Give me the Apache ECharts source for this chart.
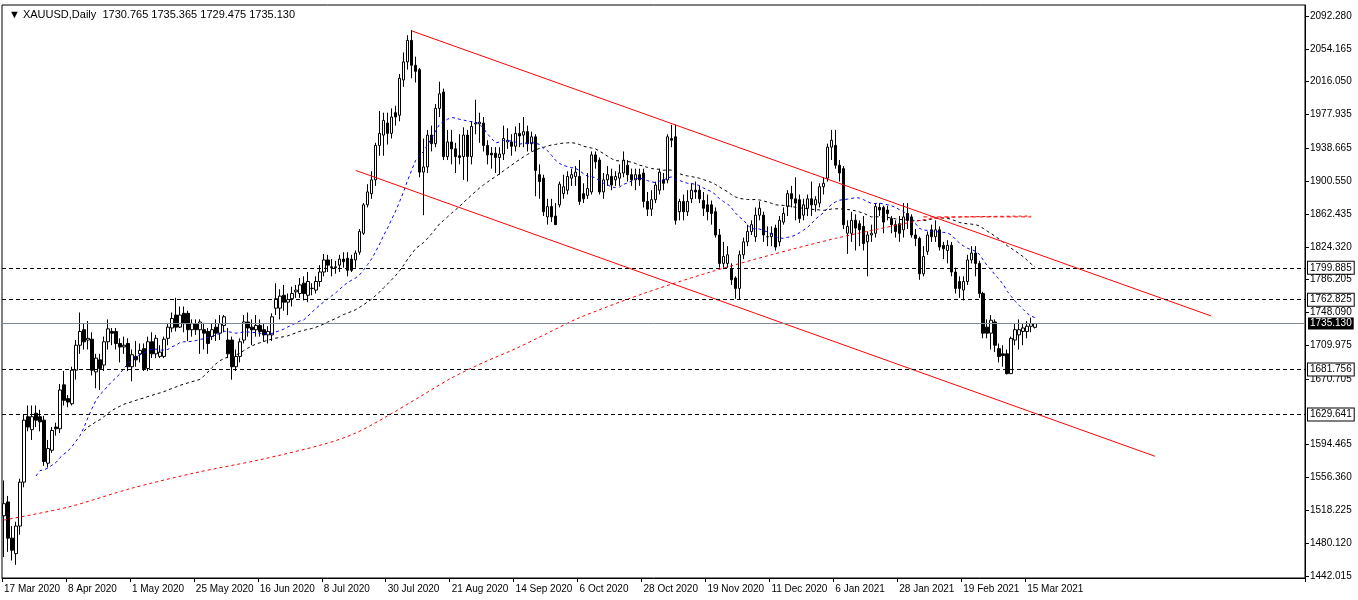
<!DOCTYPE html>
<html><head><meta charset="utf-8">
<script src="https://cdn.jsdelivr.net/npm/echarts@6/dist/echarts.min.js"></script>
<style>html,body{margin:0;padding:0;background:#fff}#c{width:1358px;height:600px}</style>
</head><body><div id="c"></div>
<script>
// OHLC rows: [open, close, low, high]
const ohlc = [
[1512,1526,1464,1553],[1528,1486,1470,1535],[1486,1472,1460,1500],[1468,1500,1455,1505],[1500,1551,1490,1555],
[1551,1623,1545,1630],[1627,1615,1610,1640],[1612,1627,1600,1640],[1631,1623,1615,1640],[1627,1621,1610,1635],
[1623,1575,1570,1628],[1573,1590,1568,1600],[1588,1611,1585,1615],[1615,1613,1605,1620],[1613,1658,1608,1665],
[1664,1646,1640,1680],[1648,1644,1638,1652],[1642,1681,1640,1685],[1681,1710,1670,1716],[1710,1726,1700,1748],
[1728,1714,1705,1735],[1716,1718,1705,1738],[1717,1681,1675,1725],[1679,1695,1660,1700],[1693,1683,1658,1700],
[1687,1714,1680,1720],[1714,1729,1705,1740],[1726,1724,1710,1730],[1726,1712,1705,1730],[1712,1708,1690,1718],
[1708,1710,1700,1720],[1712,1685,1680,1718],[1685,1699,1668,1705],[1697,1693,1685,1715],[1700,1704,1690,1712],
[1706,1683,1680,1712],[1683,1714,1680,1720],[1714,1700,1695,1725],[1700,1718,1695,1722],[1697,1702,1695,1710],
[1697,1717,1695,1720],[1718,1731,1710,1735],[1730,1741,1725,1748],[1745,1731,1726,1765],[1731,1745,1730,1755],
[1747,1735,1725,1755],[1747,1728,1715,1750],[1728,1735,1720,1740],[1735,1728,1722,1740],[1728,1737,1700,1740],
[1728,1724,1705,1736],[1726,1712,1700,1730],[1720,1728,1716,1735],[1731,1724,1715,1740],[1724,1735,1716,1745],
[1733,1743,1725,1745],[1716,1700,1695,1730],[1716,1685,1670,1720],[1685,1697,1680,1705],[1697,1714,1690,1718],
[1716,1737,1712,1745],[1737,1730,1720,1748],[1731,1728,1710,1740],[1728,1733,1720,1745],[1733,1726,1720,1740],
[1728,1722,1714,1735],[1722,1726,1712,1732],[1722,1743,1715,1747],[1753,1764,1745,1782],[1753,1767,1740,1775],
[1768,1760,1750,1780],[1760,1763,1745,1770],[1764,1770,1755,1778],[1772,1774,1765,1780],[1770,1780,1765,1788],
[1782,1770,1762,1790],[1768,1784,1760,1795],[1776,1776,1768,1782],[1774,1784,1770,1790],[1784,1795,1778,1803],
[1795,1809,1790,1816],[1809,1803,1795,1815],[1801,1800,1790,1810],[1800,1801,1793,1808],[1803,1810,1795,1815],
[1810,1807,1800,1818],[1811,1797,1790,1818],[1810,1797,1795,1815],[1809,1817,1800,1820],[1818,1842,1815,1845],
[1840,1873,1838,1875],[1873,1888,1870,1897],[1886,1902,1880,1912],[1902,1942,1895,1945],[1942,1956,1930,1982],
[1954,1971,1930,1980],[1968,1956,1943,1980],[1956,1975,1950,1985],[1980,1975,1965,1988],[1977,2020,1970,2025],
[2018,2039,2010,2050],[2039,2064,2030,2070],[2064,2035,2020,2076],[2035,2028,2015,2045],[2030,1911,1905,2032],
[1911,1917,1861,1950],[1917,1954,1910,1960],[1954,1944,1935,1965],[1944,1985,1940,1990],[1985,2002,1975,2016],
[2004,1929,1925,2008],[1929,1946,1925,1960],[1946,1938,1920,1960],[1938,1929,1910,1945],[1930,1928,1920,1955],
[1929,1954,1902,1963],[1954,1929,1900,1960],[1929,1964,1920,1970],[1967,1968,1955,1995],[1967,1969,1945,1980],
[1968,1942,1935,1975],[1942,1931,1920,1948],[1933,1931,1915,1940],[1933,1928,1910,1940],[1928,1932,1908,1940],
[1932,1950,1925,1965],[1946,1948,1938,1962],[1946,1941,1930,1955],[1941,1956,1935,1964],[1956,1953,1940,1968],
[1954,1958,1940,1975],[1958,1944,1935,1965],[1944,1952,1935,1958],[1952,1913,1883,1955],[1908,1900,1880,1920],
[1904,1865,1860,1908],[1859,1871,1850,1880],[1871,1859,1853,1880],[1860,1850,1850,1875],[1873,1897,1870,1900],
[1886,1894,1880,1908],[1890,1906,1885,1912],[1904,1908,1895,1915],[1906,1911,1895,1918],[1906,1877,1873,1925],
[1886,1880,1875,1898],[1884,1892,1880,1910],[1888,1931,1885,1935],[1931,1923,1915,1935],[1925,1888,1885,1928],
[1888,1902,1880,1910],[1902,1908,1895,1918],[1906,1896,1890,1915],[1902,1906,1895,1912],[1904,1910,1895,1920],
[1910,1925,1905,1935],[1919,1908,1900,1925],[1908,1902,1895,1915],[1902,1908,1890,1915],[1908,1902,1895,1915],
[1910,1877,1870,1915],[1877,1868,1860,1888],[1868,1879,1860,1890],[1879,1896,1875,1900],[1890,1911,1885,1915],
[1902,1898,1890,1910],[1902,1952,1898,1955],[1950,1948,1940,1966],[1952,1855,1850,1966],[1865,1877,1855,1880],
[1877,1865,1855,1885],[1865,1877,1860,1890],[1880,1890,1875,1898],[1890,1888,1880,1900],[1890,1880,1875,1895],
[1878,1869,1860,1888],[1873,1865,1855,1885],[1873,1863,1850,1878],[1865,1838,1835,1870],[1838,1805,1800,1845],
[1805,1813,1800,1830],[1805,1815,1800,1825],[1799,1786,1780,1805],[1788,1776,1764,1790],[1776,1815,1763,1820],
[1815,1830,1810,1835],[1830,1842,1825,1850],[1842,1850,1838,1855],[1836,1861,1830,1870],[1861,1869,1855,1877],
[1861,1838,1830,1865],[1836,1836,1825,1848],[1836,1840,1825,1848],[1846,1824,1820,1850],[1830,1855,1825,1860],
[1853,1863,1850,1870],[1871,1886,1860,1890],[1886,1880,1870,1895],[1880,1875,1855,1905],[1879,1857,1852,1885],
[1861,1873,1855,1880],[1869,1880,1860,1885],[1880,1873,1860,1900],[1873,1879,1865,1883],[1875,1894,1870,1898],
[1894,1898,1885,1905],[1904,1940,1900,1944],[1940,1948,1925,1960],[1942,1919,1915,1960],[1919,1910,1900,1925],
[1915,1850,1845,1918],[1840,1848,1816,1855],[1840,1855,1830,1865],[1855,1846,1820,1862],[1851,1844,1825,1855],
[1848,1828,1820,1860],[1830,1838,1790,1842],[1838,1840,1830,1850],[1840,1871,1835,1875],[1870,1867,1860,1875],
[1870,1853,1840,1872],[1867,1863,1855,1872],[1857,1850,1840,1860],[1850,1842,1835,1855],[1851,1840,1830,1860],
[1844,1859,1835,1875],[1863,1855,1845,1875],[1859,1838,1835,1862],[1838,1834,1825,1845],[1834,1793,1786,1836],
[1793,1813,1790,1825],[1819,1838,1815,1842],[1844,1836,1830,1850],[1836,1844,1830,1855],[1844,1824,1820,1848],
[1826,1822,1810,1830],[1820,1826,1805,1832],[1826,1795,1790,1830],[1795,1776,1770,1800],[1784,1776,1765,1790],
[1774,1784,1762,1790],[1784,1809,1780,1815],[1809,1817,1805,1825],[1817,1805,1790,1825],[1805,1770,1765,1808],
[1770,1724,1718,1772],[1731,1724,1718,1740],[1724,1739,1705,1745],[1737,1710,1702,1740],[1706,1697,1690,1712],
[1700,1698,1685,1710],[1700,1677,1676,1705],[1677,1718,1677,1720],[1716,1728,1710,1735],[1722,1728,1705,1740],
[1726,1730,1710,1735],[1726,1732,1718,1738],[1732,1735,1725,1742],[1730.765,1735.13,1729.475,1735.365]
];
const dateLabels = ['17 Mar 2020','8 Apr 2020','1 May 2020','25 May 2020','16 Jun 2020','8 Jul 2020','30 Jul 2020','21 Aug 2020','14 Sep 2020','6 Oct 2020','28 Oct 2020','19 Nov 2020','11 Dec 2020','6 Jan 2021','28 Jan 2021','19 Feb 2021','15 Mar 2021'];
const priceTicks = [1442.015,1480.120,1518.225,1556.360,1594.465,1670.705,1709.975,1748.090,1786.205,1824.320,1862.435,1900.550,1938.665,1977.935,2016.050,2054.165,2092.280];
const levels = [1799.885,1762.825,1681.756,1629.641];
const lastPrice = 1735.130;
// 200-day MA: [barIndex, value]
const ma200 = [[0,1507],[16,1522],[32,1544],[48,1562],[64,1577],[80,1595],[88,1608],[96,1628],[104,1650],[112,1672],[120,1690],[128,1706],[136,1724],[144,1742],[160,1770],[176,1794],[192,1815],[208,1834],[224,1850],[232,1857],[240,1859],[257,1860]];
const resistance = [[230,1859],[257,1859]];
const upperChannel = [[102,2075],[302,1744]];
const lowerChannel = [[88,1913],[288,1581]];
const totalSlots = 326;

const cats = [];
for (let i = 0; i < totalSlots; i++) cats.push(i % 16 === 0 && dateLabels[i/16] ? dateLabels[i/16] : '');
const closes = ohlc.map(r => r[1]);
function ma(p, start){
  return closes.map((_, i) => {
    if (i < start) return '-';
    const a = Math.max(0, i - p + 1); let s = 0;
    for (let k = a; k <= i; k++) s += closes[k];
    return +(s / (i - a + 1)).toFixed(2);
  });
}
const f = 'Liberation Sans, Arial, sans-serif';
const chart = echarts.init(document.getElementById('c'));
chart.setOption({
  animation:false,
  title:{text:'\u25BC XAUUSD,Daily  1730.765 1735.365 1729.475 1735.130',left:4,top:4,textStyle:{fontSize:11,fontWeight:'normal',color:'#000',fontFamily:f}},
  grid:{left:2,right:53,top:5,bottom:22,show:true,borderColor:'#000',borderWidth:1},
  xAxis:{type:'category',data:cats,boundaryGap:true,
    axisLine:{lineStyle:{color:'#000'}},
    axisTick:{show:true,interval:(i)=>i%16===0 && i<=256,length:4,lineStyle:{color:'#000'}},
    axisLabel:{interval:(i)=>i%16===0,align:'left',color:'#000',fontSize:10,fontFamily:f,margin:6},
    splitLine:{show:false}},
  yAxis:{type:'value',position:'right',min:1439.7,max:2105.05,
    axisLine:{show:true,lineStyle:{color:'#000'}},
    axisTick:{show:true,customValues:priceTicks,length:4,lineStyle:{color:'#000'}},
    axisLabel:{customValues:priceTicks,formatter:v=>v.toFixed(3),color:'#000',fontSize:10,fontFamily:f,margin:5},
    splitLine:{show:false}},
  series:[
    {type:'candlestick',data:ohlc,barWidth:3,
     itemStyle:{color:'#fff',color0:'#000',borderColor:'#000',borderColor0:'#000',borderWidth:1},
     markLine:{symbol:'none',silent:true,animation:false,
      data:[
        ...levels.map(v=>({yAxis:v,lineStyle:{color:'#000',type:[4,3],width:1},label:{position:'end',formatter:v.toFixed(3),color:'#000',backgroundColor:'#fff',borderColor:'#000',borderWidth:1,padding:[1,2],fontSize:10,fontFamily:f,distance:3}})),
        {yAxis:lastPrice,lineStyle:{color:'#808890',type:'solid',width:1},label:{position:'end',formatter:lastPrice.toFixed(3),color:'#fff',backgroundColor:'#000',padding:[1,2],fontSize:10,fontFamily:f,distance:3}}
      ]}},
    {type:'line',data:ma(20,8),showSymbol:false,lineStyle:{color:'#00f',type:[3,3],width:1},z:3},
    {type:'line',data:ma(50,20),showSymbol:false,lineStyle:{color:'#000',type:[3,3],width:1},z:3},
    {type:'line',data:ma200,showSymbol:false,smooth:0.3,lineStyle:{color:'#f00',type:[3,3],width:1},z:3},
    {type:'line',data:resistance,showSymbol:false,lineStyle:{color:'#f00',type:[4,3],width:1},z:3},
    {type:'line',data:upperChannel,showSymbol:false,lineStyle:{color:'#f00',width:1},z:4},
    {type:'line',data:lowerChannel,showSymbol:false,lineStyle:{color:'#f00',width:1},z:4}
  ]
});
</script></body></html>
